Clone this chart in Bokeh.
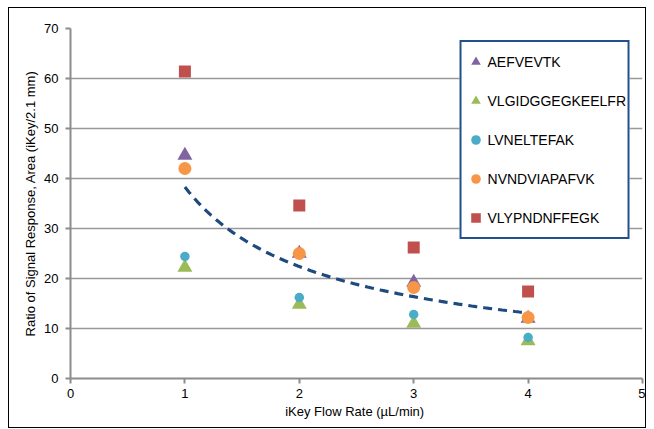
import numpy as np
from bokeh.plotting import figure
from bokeh.models import Range1d, FixedTicker
from bokeh.embed import file_html
from bokeh.resources import INLINE

# ---- data ----
flow_rates = [1, 2, 3, 4]
aefvevtk = [44.6, 25.0, 19.2, 12.0]
vlgidggegkeelfr = [22.2, 14.8, 11.0, 7.5]
lvneltefak = [24.4, 16.2, 12.8, 8.2]
nvndviapafvk = [42.0, 25.0, 18.2, 12.2]
vlypndnffegk = [61.4, 34.6, 26.2, 17.4]
# power trendline y = a * x^b (coefficients)
trend_a = 38.3
trend_b = -0.774
x_ticks = [0, 1, 2, 3, 4, 5]
y_ticks = [0, 10, 20, 30, 40, 50, 60, 70]

FONT = "Liberation Sans"
GRID = "#999999"

p = figure(width=638, height=421, output_backend="svg", toolbar_location=None,
           x_range=Range1d(0, 5), y_range=Range1d(0, 70),
           min_border_left=61, min_border_right=5, min_border_top=20, min_border_bottom=51)
p.styles = {"border": "1px solid #000000", "margin-left": "8px", "margin-top": "7px"}
p.outline_line_color = None
p.background_fill_color = "white"
p.border_fill_color = "white"

p.xgrid.grid_line_color = None
p.ygrid.grid_line_color = GRID
p.ygrid.grid_line_width = 1.5
p.ygrid.ticker = FixedTicker(ticks=y_ticks)

for ax in (p.xaxis[0], p.yaxis[0]):
    ax.axis_line_color = "#8C8C8C"
    ax.axis_line_width = 2
    ax.major_tick_line_color = "#8C8C8C"
    ax.major_tick_line_width = 2
    ax.major_tick_out = 5
    ax.major_tick_in = 0
    ax.minor_tick_line_color = None
    ax.major_label_text_font = FONT
    ax.major_label_text_font_size = "13px"
    ax.major_label_text_color = "#000000"
    ax.axis_label_text_font = FONT
    ax.axis_label_text_font_size = "13px"
    ax.axis_label_text_font_style = "normal"
    ax.axis_label_text_color = "#000000"

p.xaxis.ticker = FixedTicker(ticks=x_ticks)
p.yaxis.ticker = FixedTicker(ticks=y_ticks)
p.xaxis.axis_label = "iKey Flow Rate  (\u00b5L/min)"
p.yaxis.axis_label = "Ratio of Signal Response, Area (iKey/2.1 mm)"
p.xaxis.major_label_standoff = 5
p.xaxis.axis_label_standoff = 3
p.yaxis.major_label_standoff = 7
p.yaxis.axis_label_standoff = 3

# trendline
tx = np.linspace(flow_rates[0], flow_rates[-1], 80)
ty = trend_a * tx ** trend_b
p.line(tx, ty, line_color="#1F4A7E", line_width=3.2, line_dash="9 6")

p.scatter(flow_rates, aefvevtk, marker="triangle", size=15, fill_color="#8064A2",
          line_color=None, legend_label="AEFVEVTK")
p.scatter(flow_rates, vlgidggegkeelfr, marker="triangle", size=15, fill_color="#9BBB59",
          line_color=None, legend_label="VLGIDGGEGKEELFR")
p.scatter(flow_rates, lvneltefak, marker="circle", size=9.5, fill_color="#4BACC6",
          line_color=None, legend_label="LVNELTEFAK")
p.scatter(flow_rates, nvndviapafvk, marker="circle", size=13, fill_color="#F79646",
          line_color=None, legend_label="NVNDVIAPAFVK")
p.scatter(flow_rates, vlypndnffegk, marker="square", size=12, fill_color="#C0504D",
          line_color=None, legend_label="VLYPNDNFFEGK")

lg = p.legend[0]
lg.location = "top_right"
lg.margin = 12
lg.padding = 2
lg.spacing = 4
lg.label_height = 35
lg.glyph_height = 35
lg.glyph_width = 24
lg.label_standoff = 0
lg.border_line_color = "#22508C"
lg.border_line_alpha = 1
lg.border_line_width = 2
lg.background_fill_color = "white"
lg.background_fill_alpha = 1
lg.label_text_font = FONT
lg.label_text_font_size = "14px"
lg.label_text_color = "#000000"

open("out.html", "w").write(file_html(p, INLINE))
